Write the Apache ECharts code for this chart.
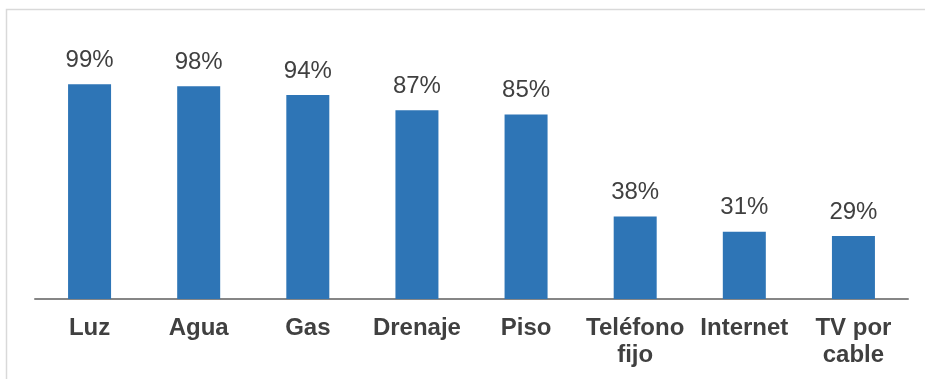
<!DOCTYPE html>
<html><head><meta charset="utf-8">
<script src="https://cdn.jsdelivr.net/npm/echarts@6/dist/echarts.min.js"></script>
<style>html,body{margin:0;padding:0;background:#fff}#c{width:925px;height:379px}</style>
</head><body><div id="c"></div>
<script>
const categories = ['Luz', 'Agua', 'Gas', 'Drenaje', 'Piso', 'Teléfono\nfijo', 'Internet', 'TV por\ncable'];
const values = [99, 98, 94, 87, 85, 38, 31, 29];

const chart = echarts.init(document.getElementById('c'));
chart.setOption({
  animation: false,
  graphic: [{
    type: 'rect', shape: {x: 6.5, y: 9.5, width: 940, height: 400},
    style: {fill: 'none', stroke: '#d9d9d9', lineWidth: 1.5}, silent: true
  }],
  grid: {left: 35, right: 17, top: 82, bottom: 80, containLabel: false},
  xAxis: {
    type: 'category', data: categories,
    axisLine: {lineStyle: {color: '#868686', width: 2}},
    axisTick: {show: false},
    axisLabel: {fontFamily: 'Liberation Sans, Arial', fontWeight: 'bold', fontSize: 24, color: '#404040', margin: 16, lineHeight: 27, interval: 0}
  },
  yAxis: {type: 'value', min: 0, max: 100, show: false, splitLine: {show: false}},
  series: [{
    type: 'bar', data: values, barWidth: 43,
    itemStyle: {color: '#2E75B6'},
    label: {show: true, position: 'top', distance: 12, formatter: '{c}%', fontFamily: 'Liberation Sans, Arial', fontSize: 24, color: '#404040'}
  }]
});
</script></body></html>
